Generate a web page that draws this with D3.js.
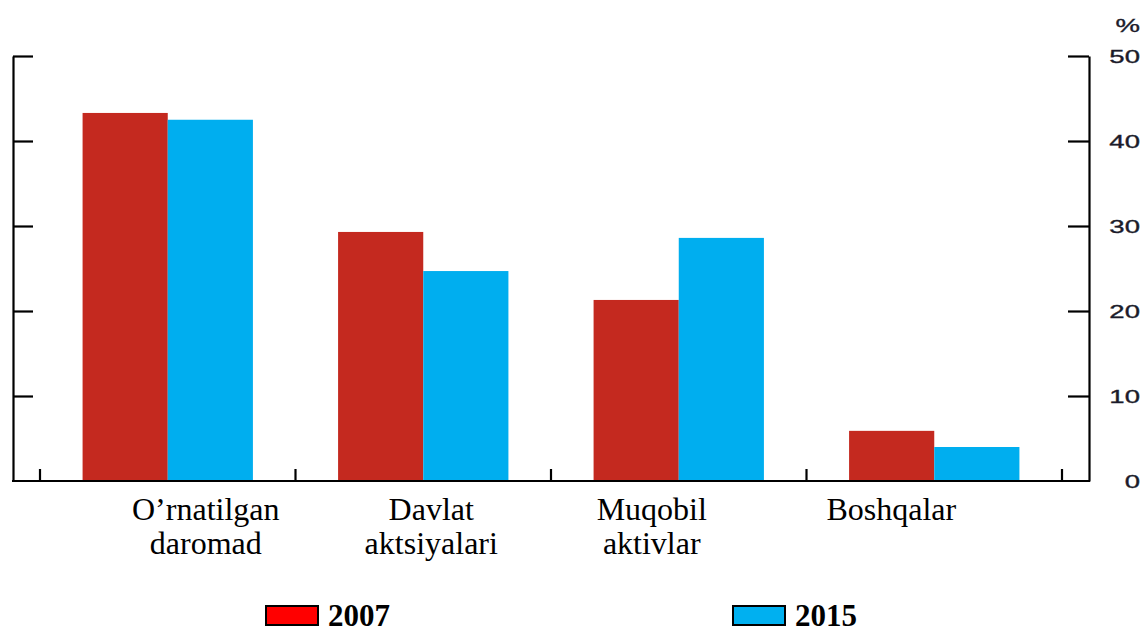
<!DOCTYPE html>
<html>
<head>
<meta charset="utf-8">
<script src="https://cdn.jsdelivr.net/npm/d3@7/dist/d3.min.js"></script>
<style>
  html, body { margin: 0; padding: 0; background: #fff; }
  svg { display: block; }
</style>
</head>
<body>
<svg id="chart" width="1146" height="634"></svg>
<script>
// ---- data ----
const categories = [["O\u2019rnatilgan", "daromad"], ["Davlat", "aktsiyalari"], ["Muqobil", "aktivlar"], ["Boshqalar"]];
const seriesNames = ["2007", "2015"];
const values2007 = [43.3, 29.3, 21.3, 5.9];
const values2015 = [42.5, 24.7, 28.6, 4.0];
const yTicks = [0, 10, 20, 30, 40, 50];
const unitLabel = "%";

// ---- layout ----
const colors = { "2007": "#C4291F", "2015": "#00AEEF" };
const legendColors = { "2007": "#FF0000", "2015": "#00B0F0" };
const labelOffsets = [38, 8, -27, -43];
const leftAxisX = 13, rightAxisX = 1089, baseY = 481, topY = 56;

const svg = d3.select("#chart");
const catKeys = categories.map((c, i) => i);

const y = d3.scaleLinear().domain([0, 50]).range([baseY, topY]);
const x0 = d3.scaleBand().domain(catKeys).range([40, 1062]).paddingInner(0).paddingOuter(0);
const x1 = d3.scaleBand().domain(seriesNames).range([0, x0.bandwidth()]).paddingInner(0).paddingOuter(0.5);

const rows = catKeys.map(i => ({ i, vals: [values2007[i], values2015[i]] }));

// bars
const g = svg.append("g");
g.selectAll("g.cat").data(rows).join("g")
  .attr("class", "cat")
  .attr("transform", d => `translate(${x0(d.i)},0)`)
  .selectAll("rect").data(d => seriesNames.map((s, k) => ({ s, v: d.vals[k] }))).join("rect")
  .attr("x", d => x1(d.s))
  .attr("width", x1.bandwidth())
  .attr("y", d => y(d.v))
  .attr("height", d => y(0) - y(d.v))
  .attr("fill", d => colors[d.s]);

// left axis
const leftAxis = d3.axisRight(y).tickValues(yTicks.filter(t => t > 0)).tickSize(20).tickSizeOuter(0).tickFormat("");
svg.append("g").attr("transform", `translate(${leftAxisX},0)`).call(leftAxis)
  .call(s => s.selectAll("line, path").attr("stroke", "#000").attr("stroke-width", 2.2));

// right axis
const rightAxis = d3.axisLeft(y).tickValues(yTicks.filter(t => t > 0)).tickSize(21).tickSizeOuter(0).tickFormat("");
svg.append("g").attr("transform", `translate(${rightAxisX},0)`).call(rightAxis)
  .call(s => s.selectAll("line, path").attr("stroke", "#000").attr("stroke-width", 2.2));

// right tick labels
svg.append("g").selectAll("text").data(yTicks).join("text")
  .attr("transform", d => `translate(1140,${y(d) + 7}) scale(1.45,1)`)
  .attr("text-anchor", "end")
  .attr("font-family", "Liberation Sans, Arial, sans-serif")
  .attr("font-size", 19)
  .attr("fill", "#1b1b2a")
  .attr("stroke", "#1b1b2a")
  .attr("stroke-width", 0.35)
  .text(d => d);

svg.append("text")
  .attr("transform", `translate(1140,${y(50) - 24}) scale(1.45,1)`)
  .attr("text-anchor", "end")
  .attr("font-family", "Liberation Sans, Arial, sans-serif")
  .attr("font-size", 19)
  .attr("fill", "#1b1b2a")
  .attr("stroke", "#1b1b2a")
  .attr("stroke-width", 0.35)
  .text(unitLabel);

// baseline
svg.append("line")
  .attr("x1", leftAxisX - 1).attr("x2", rightAxisX + 1)
  .attr("y1", y(0)).attr("y2", y(0))
  .attr("stroke", "#000").attr("stroke-width", 2.2);

// bottom ticks at band boundaries
const bounds = catKeys.map(i => x0(i)).concat([x0(catKeys[catKeys.length - 1]) + x0.bandwidth()]);
svg.append("g").selectAll("line").data(bounds).join("line")
  .attr("x1", d => d).attr("x2", d => d)
  .attr("y1", y(0)).attr("y2", y(0) - 12)
  .attr("stroke", "#000").attr("stroke-width", 2.2);

// category labels
const labels = svg.append("g");
rows.forEach(d => {
  const cx = x0(d.i) + x0.bandwidth() / 2 + labelOffsets[d.i];
  const t = labels.append("text")
    .attr("text-anchor", "middle")
    .attr("font-family", "Liberation Serif, Times New Roman, serif")
    .attr("font-size", 32)
    .attr("fill", "#000");
  categories[d.i].forEach((line, k) => {
    t.append("tspan").attr("x", cx).attr("y", 520 + k * 34).text(line);
  });
});

// legend
const legendX = [266, 733];
const legend = svg.append("g");
seriesNames.forEach((s, k) => {
  legend.append("rect")
    .attr("x", legendX[k]).attr("y", 606).attr("width", 52).attr("height", 19)
    .attr("fill", legendColors[s]).attr("stroke", "#000").attr("stroke-width", 2);
  legend.append("text")
    .attr("x", legendX[k] + 62).attr("y", 626)
    .attr("font-family", "Liberation Serif, Times New Roman, serif")
    .attr("font-weight", "bold")
    .attr("font-size", 31)
    .attr("fill", "#000")
    .text(s);
});
</script>
</body>
</html>
